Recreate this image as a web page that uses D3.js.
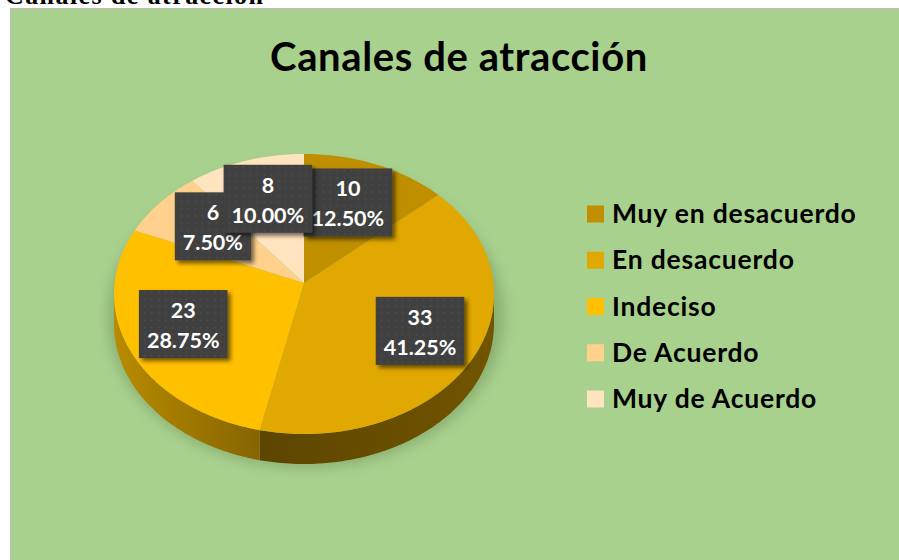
<!DOCTYPE html>
<html>
<head>
<meta charset="utf-8">
<script src="https://cdn.jsdelivr.net/npm/d3@7"></script>
<style>
  body { margin: 0; background: #fff; }
  svg { display: block; }
</style>
</head>
<body>
<div id="chart"></div>
<script>
// data
const categories = ['Muy en desacuerdo', 'En desacuerdo', 'Indeciso', 'De Acuerdo', 'Muy de Acuerdo'];
const values = [10, 33, 23, 6, 8];
const colors = ['#BF8F00', '#E0A800', '#FFC000', '#FFD18C', '#FFE4C0'];
const chartTitle = 'Canales de atracción';

// layout
const width = 899;
const height = 560;
const cx = 304, cy = 294, rx = 190, ry = 140, depth = 30, apexY = 283;
const labelNudge = [[-7, 10], [0, 0], [0, 0], [10, 7], [5, 9]];
const font = 'Lato, "Noto Sans", sans-serif';

const svg = d3.select('#chart').append('svg')
  .attr('width', width)
  .attr('height', height);

const defs = svg.append('defs');

defs.append('filter').attr('id', 'boxShadow')
  .attr('x', '-20%').attr('y', '-20%').attr('width', '150%').attr('height', '150%')
  .append('feDropShadow')
  .attr('dx', 3).attr('dy', 3).attr('stdDeviation', 2)
  .attr('flood-color', '#000').attr('flood-opacity', 0.55);

defs.append('filter').attr('id', 'pieShadow')
  .attr('x', '-20%').attr('y', '-20%').attr('width', '140%').attr('height', '140%')
  .append('feGaussianBlur').attr('stdDeviation', 7);

const dots = defs.append('pattern').attr('id', 'dots')
  .attr('width', 7).attr('height', 7).attr('patternUnits', 'userSpaceOnUse');
dots.append('rect').attr('width', 7).attr('height', 7).attr('fill', '#404040');
dots.append('circle').attr('cx', 3.5).attr('cy', 3.5).attr('r', 0.9).attr('fill', '#4d4d4d');

// side wall shading per slice: [left, right] darkness
const sideShade = [[1.6, 1.9], [2.5, 1.9], [0.9, 1.8], [1, 1.5], [1, 1.5]];
sideShade.forEach((s, i) => {
  const g = defs.append('linearGradient').attr('id', `side${i}`)
    .attr('x1', 0).attr('x2', 1).attr('y1', 0).attr('y2', 0);
  g.append('stop').attr('offset', '0%').attr('stop-color', d3.color(colors[i]).darker(s[0]));
  g.append('stop').attr('offset', '100%').attr('stop-color', d3.color(colors[i]).darker(s[1]));
});

// caption cut off above the chart
svg.append('text')
  .attr('x', 5).attr('y', 4)
  .attr('font-family', '"Liberation Serif", serif')
  .attr('font-weight', 'bold')
  .attr('font-size', 26)
  .attr('textLength', 258)
  .attr('fill', '#000')
  .text(chartTitle);

// chart area
svg.append('rect')
  .attr('x', 10.5).attr('y', 8.5)
  .attr('width', 900).attr('height', 560)
  .attr('fill', '#A9D18E')
  .attr('stroke', '#BFBFBF');

svg.append('text')
  .attr('x', 459).attr('y', 71)
  .attr('text-anchor', 'middle')
  .attr('font-family', font)
  .attr('font-weight', 'bold')
  .attr('font-size', 40)
  .attr('letter-spacing', 0.6)
  .attr('fill', '#000')
  .text(chartTitle);

// pie
const total = d3.sum(values);
const pie = d3.pie().sort(null).startAngle(0).endAngle(2 * Math.PI);
const arcs = pie(values);

const ex = (a) => cx + rx * Math.sin(a);
const ey = (a) => cy - ry * Math.cos(a);

function edgePoints(a0, a1, dy = 0) {
  const n = Math.max(2, Math.ceil((a1 - a0) / 0.02));
  return d3.range(n + 1).map((k) => {
    const a = a0 + ((a1 - a0) * k) / n;
    return [ex(a), ey(a) + dy];
  });
}

svg.append('ellipse')
  .attr('cx', cx + 2).attr('cy', cy + depth - 8)
  .attr('rx', rx + 8).attr('ry', ry + 12)
  .attr('fill', '#4f6e3a')
  .attr('opacity', 0.35)
  .attr('filter', 'url(#pieShadow)');

const line = d3.line();

// side walls (front half only)
svg.append('g').selectAll('path')
  .data(arcs.filter((d) => d.endAngle > Math.PI / 2 && d.startAngle < 1.5 * Math.PI))
  .join('path')
  .attr('d', (d) => {
    const s0 = Math.max(d.startAngle, Math.PI / 2);
    const s1 = Math.min(d.endAngle, 1.5 * Math.PI);
    const top = edgePoints(s0, s1);
    const bottom = edgePoints(s0, s1, depth).reverse();
    return `${line(top.concat(bottom))}Z`;
  })
  .attr('fill', (d) => `url(#side${d.index})`);

// top faces
svg.append('g').selectAll('path')
  .data(arcs)
  .join('path')
  .attr('d', (d) => `${line([[cx, apexY]].concat(edgePoints(d.startAngle, d.endAngle)))}Z`)
  .attr('fill', (d) => colors[d.index]);

// data labels
const fmt = d3.format('.2%');
const labels = svg.append('g').selectAll('g')
  .data(arcs)
  .join('g')
  .attr('transform', (d) => {
    const a = (d.startAngle + d.endAngle) / 2;
    const x = cx + 0.7 * rx * Math.sin(a) + labelNudge[d.index][0];
    const y = apexY - 0.7 * ry * Math.cos(a) + labelNudge[d.index][1];
    return `translate(${x},${y})`;
  });

labels.append('rect')
  .attr('fill', 'url(#dots)')
  .attr('filter', 'url(#boxShadow)');

labels.append('text')
  .attr('text-anchor', 'middle')
  .attr('font-family', font)
  .attr('font-weight', 'bold')
  .attr('font-size', 21.5)
  .attr('fill', '#fff')
  .attr('y', -6)
  .text((d) => d.data);

labels.append('text')
  .attr('text-anchor', 'middle')
  .attr('font-family', font)
  .attr('font-weight', 'bold')
  .attr('font-size', 21.5)
  .attr('fill', '#fff')
  .attr('y', 24)
  .text((d) => fmt(d.data / total));

labels.each(function () {
  const g = d3.select(this);
  const w = d3.max(g.selectAll('text').nodes(), (n) => n.getComputedTextLength()) + 16;
  g.select('rect')
    .attr('x', -w / 2).attr('y', -34)
    .attr('width', w).attr('height', 68);
});

// legend
const legendY = d3.scalePoint().domain(categories).range([214, 399]);
const legend = svg.append('g').selectAll('g')
  .data(categories)
  .join('g')
  .attr('transform', (d) => `translate(587,${legendY(d)})`);

legend.append('rect')
  .attr('x', 0).attr('y', -8.5)
  .attr('width', 17).attr('height', 17)
  .attr('fill', (d, i) => colors[i]);

legend.append('text')
  .attr('x', 25).attr('y', 9)
  .attr('font-family', font)
  .attr('font-weight', 'bold')
  .attr('font-size', 26.5)
  .attr('letter-spacing', 0.8)
  .attr('fill', '#000')
  .text((d) => d);
</script>
</body>
</html>
